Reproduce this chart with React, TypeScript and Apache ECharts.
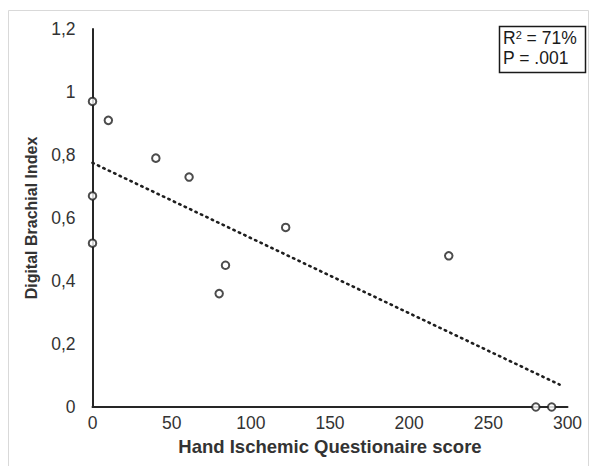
import React, { useEffect, useRef } from "react";
import * as echarts from "echarts";

const xValues = [0, 10, 40, 61, 0, 0, 122, 84, 80, 225, 280, 290];
const yValues = [0.97, 0.91, 0.79, 0.73, 0.67, 0.52, 0.57, 0.45, 0.36, 0.48, 0, 0];
const trendX = [0, 295];
const trendY = [0.775, 0.071];
const xTitle = "Hand Ischemic Questionaire score";
const yTitle = "Digital Brachial Index";
const statP = "P = .001";

const FONT = "'Liberation Sans', Arial, sans-serif";

export default function App() {
  const ref = useRef<HTMLDivElement>(null);
  useEffect(() => {
    if (!ref.current) return;
    const chart = echarts.init(ref.current, undefined, { renderer: "svg" });
    const points = xValues.map((x, i) => [x, yValues[i]]);
    const trend = trendX.map((x, i) => [x, trendY[i]]);
    chart.setOption({
      animation: false,
      backgroundColor: "#ffffff",
      grid: { left: 92.5, right: 27.5, top: 29, bottom: 59 },
      xAxis: {
        type: "value",
        min: 0,
        max: 300,
        interval: 50,
        name: xTitle,
        nameLocation: "middle",
        nameGap: 26,
        nameTextStyle: { fontFamily: FONT, fontSize: 18.5, fontWeight: "bold", color: "#333333" },
        axisLine: { show: true, lineStyle: { color: "#262626", width: 2 } },
        axisTick: { show: false },
        splitLine: { show: false },
        axisLabel: { fontFamily: FONT, fontSize: 17.5, color: "#333333", margin: 7 },
      },
      yAxis: {
        type: "value",
        min: 0,
        max: 1.2,
        interval: 0.2,
        name: yTitle,
        nameLocation: "middle",
        nameGap: 53,
        nameTextStyle: { fontFamily: FONT, fontSize: 16, fontWeight: "bold", color: "#333333" },
        axisLine: { show: true, lineStyle: { color: "#262626", width: 2 } },
        axisTick: { show: false },
        splitLine: { show: false },
        axisLabel: {
          fontFamily: FONT,
          fontSize: 17.5,
          color: "#333333",
          margin: 17,
          formatter: (v: number) => String(Math.round(v * 10) / 10).replace(".", ","),
        },
      },
      series: [
        {
          type: "line",
          data: trend,
          showSymbol: false,
          symbol: "none",
          lineStyle: { color: "#1f1f1f", width: 2.6, type: [1.4, 4.6], cap: "round" },
          z: 2,
        },
        {
          type: "scatter",
          data: points,
          symbol: "circle",
          symbolSize: 7.5,
          itemStyle: { color: "#ffffff", borderColor: "#1f1f1f", borderWidth: 2 },
          z: 3,
        },
      ],
      graphic: [
        {
          type: "rect",
          shape: { x: 8.5, y: 10.5, width: 580, height: 470 },
          style: { fill: "none", stroke: "#d9d9d9", lineWidth: 1 },
          silent: true,
        },
        {
          type: "rect",
          shape: { x: 499.5, y: 26.5, width: 86, height: 46 },
          style: { fill: "#ffffff", stroke: "#1a1a1a", lineWidth: 1.5 },
        },
        {
          type: "text",
          x: 503,
          y: 29,
          style: {
            text: "{b|R}{s|2}{b| = 71%}",
            fill: "#1a1a1a",
            rich: {
              b: { fontFamily: FONT, fontSize: 17.5, fill: "#1a1a1a", verticalAlign: "bottom", lineHeight: 18 },
              s: { fontFamily: FONT, fontSize: 11, fill: "#1a1a1a", verticalAlign: "top", lineHeight: 18 },
            },
          },
        },
        {
          type: "text",
          x: 503,
          y: 48.5,
          style: { text: statP, font: `17.5px ${FONT}`, fill: "#1a1a1a", lineHeight: 18 },
        },
      ],
    });
    return () => chart.dispose();
  }, []);
  return (
    <div
      ref={ref}
      style={{ position: "fixed", left: 0, top: 0, width: 595, height: 466, background: "#fff" }}
    />
  );
}
